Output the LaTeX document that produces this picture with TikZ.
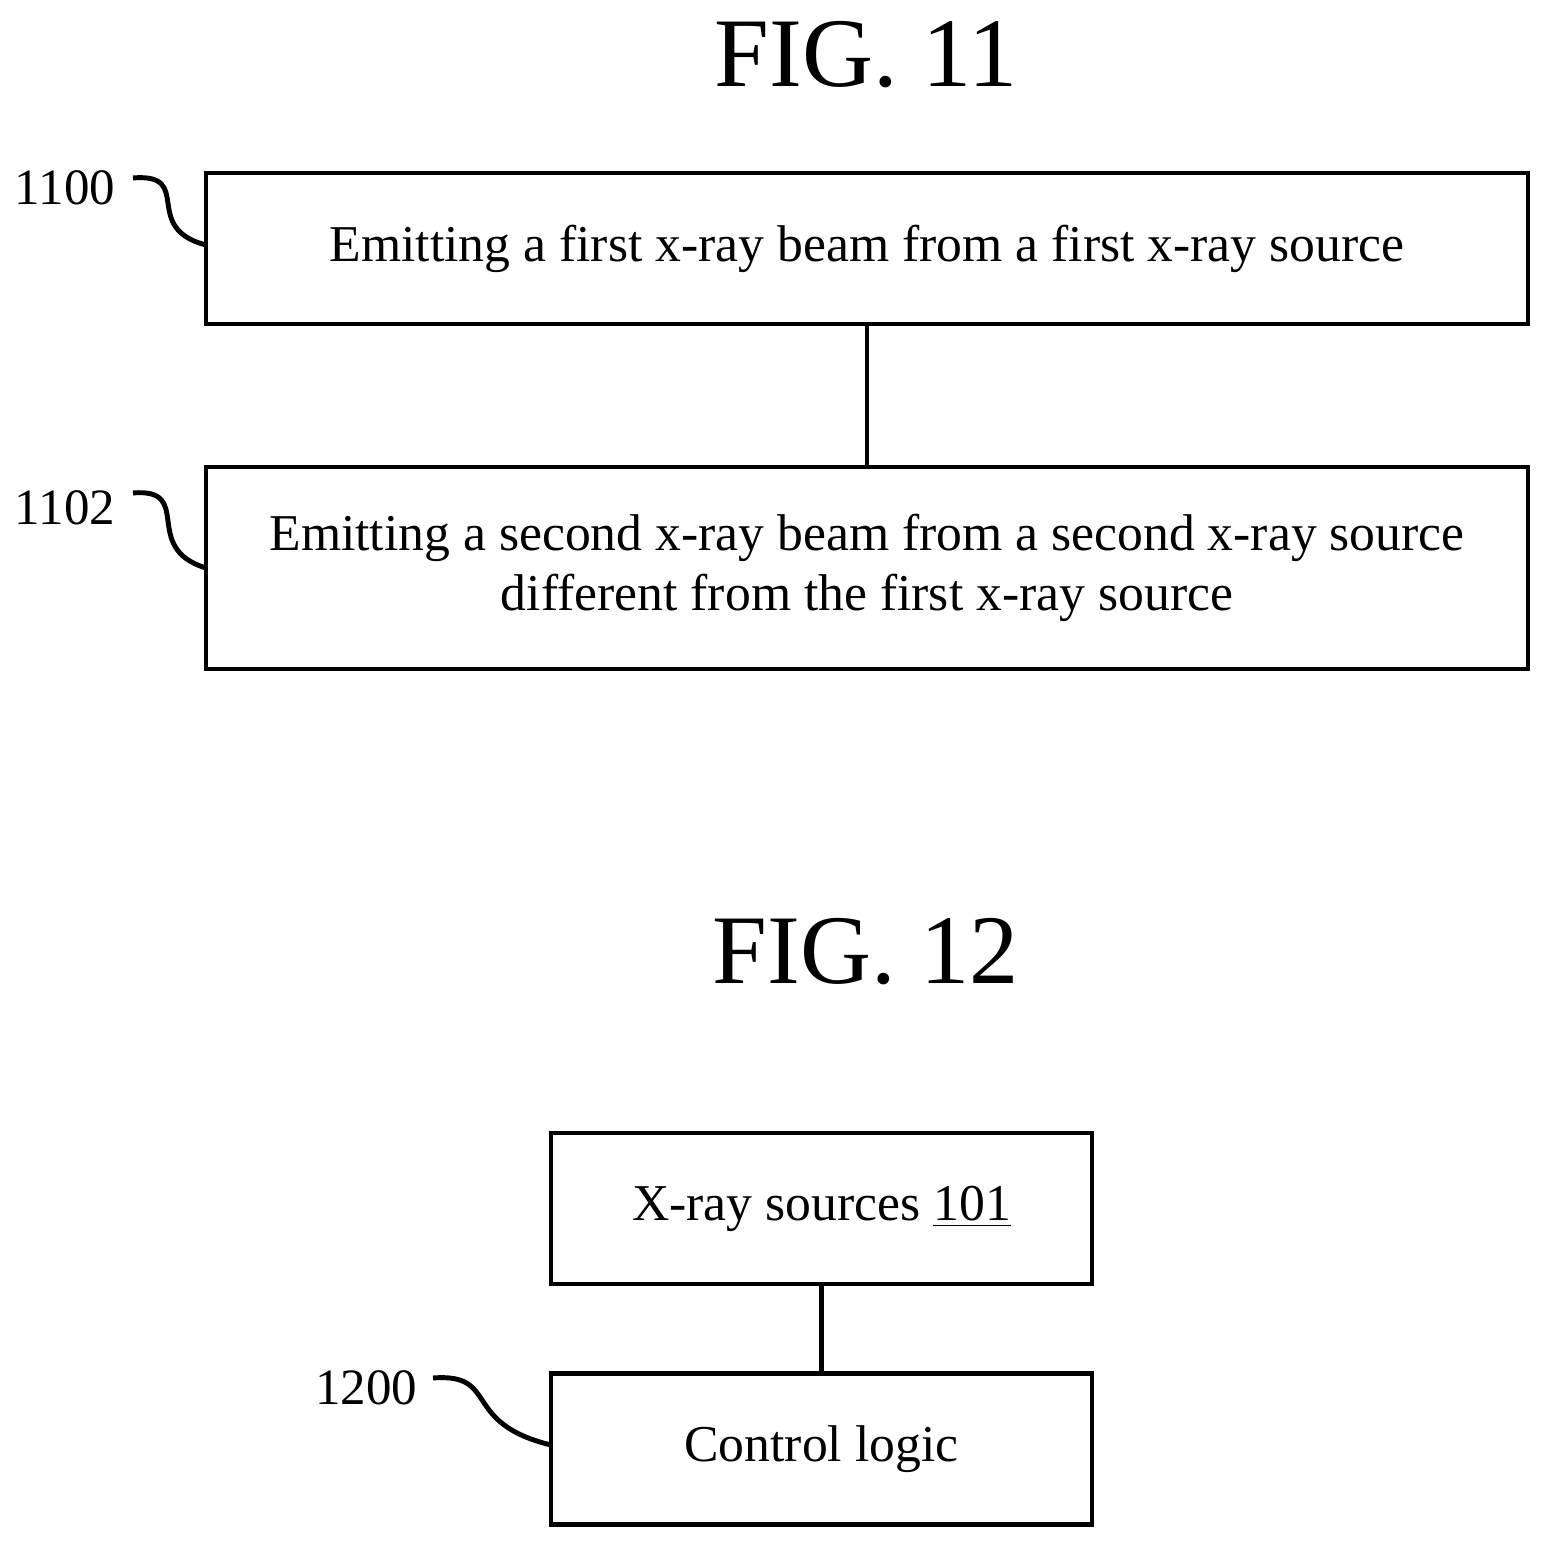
\documentclass[tikz,border=0pt]{standalone}
\usepackage{fontspec}
\setmainfont{Liberation Serif}
\usetikzlibrary{positioning}
\tikzset{
    stepbox/.style={draw, line width=1.4pt, minimum height=1.51cm, align=center, inner sep=0pt, font=\fontsize{14.7}{17}\selectfont},
    fig/.style={font=\fontsize{28}{32}\selectfont},
    ref/.style={font=\fontsize{14.5}{17}\selectfont},
    link/.style={line width=1.4pt},
}
\begin{document}
\begin{tikzpicture}
    \useasboundingbox (0, 0) rectangle (15.51, 15.48);
    \node[fig] (fig11) at (8.66, 14.93) {FIG. 11};
    \node[stepbox, minimum width=13.22cm] (emit1) at (8.67, 12.995) {Emitting a first x-ray beam from a first x-ray source};
    \node[stepbox, minimum width=13.22cm, minimum height=2.02cm] (emit2) at (8.67, 9.80) {Emitting a second x-ray beam from a second x-ray source\\different from the first x-ray source};
    \draw[link] (emit1) -- (emit2);
    \node[ref] (l1100) at (0.65, 13.6) {1100};
    \node[ref] (l1102) at (0.65, 10.4) {1102};
    \draw[link] (1.33, 13.7) .. controls (1.95, 13.75) and (1.4, 13.2) .. (2.06, 13.03);
    \draw[link] (1.33, 10.55) .. controls (1.95, 10.6) and (1.4, 10.0) .. (2.06, 9.8);

    \node[fig] (fig12) at (8.66, 5.96) {FIG. 12};
    \node[stepbox, minimum width=5.41cm] (src) at (8.215, 3.395) {X-ray sources \underline{101}};
    \node[stepbox, minimum width=5.41cm] (ctrl) at (8.215, 0.99) {Control logic};
    \draw[link] (src) -- (ctrl);
    \node[ref] (l1200) at (3.66, 1.6) {1200};
    \draw[link] (4.33, 1.7) .. controls (5.0, 1.75) and (4.6, 1.25) .. (5.51, 1.03);
\end{tikzpicture}
\end{document}
